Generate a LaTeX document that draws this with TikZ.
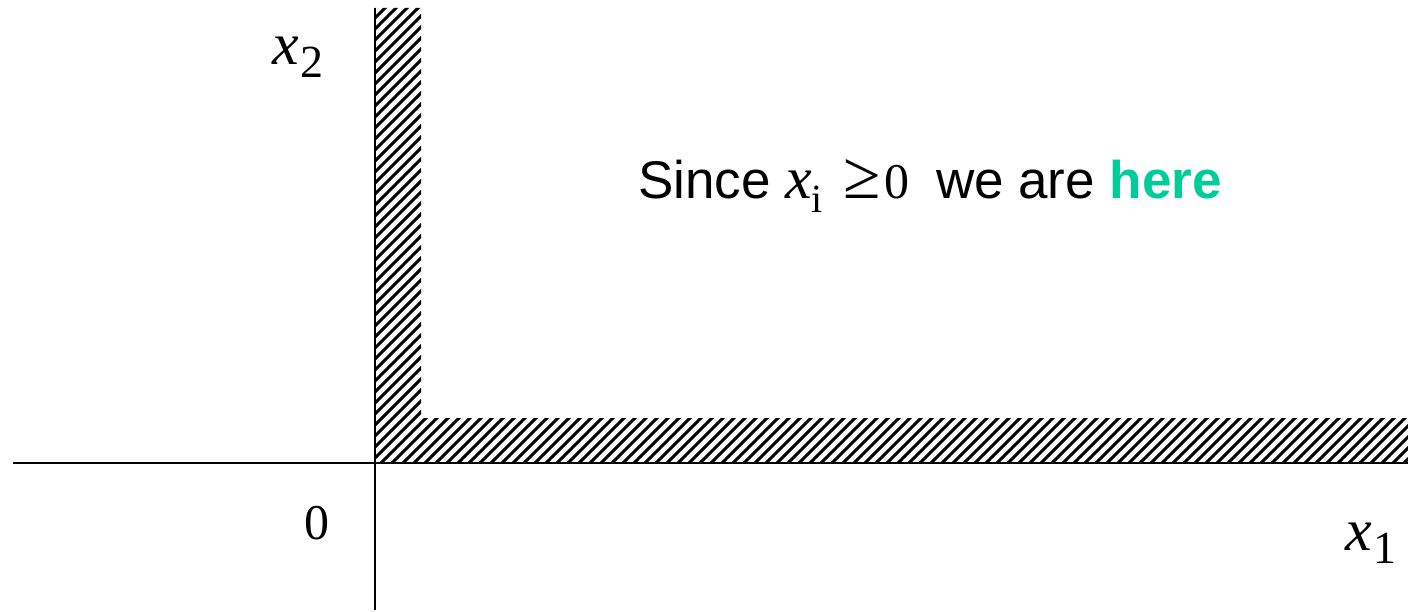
\documentclass[tikz,border=0pt]{standalone}
\usepackage{fontspec}
\setmainfont{Liberation Serif}
\newfontfamily\arialfam{Liberation Sans}
\definecolor{heregreen}{HTML}{00CC99}
\tikzset{
  axis/.style={line width=2pt, black},
  hatchline/.style={line width=3pt, black},
  lbl/.style={inner sep=0pt, outer sep=0pt, anchor=base west},
}
\newcommand{\varx}[2]{{\fontsize{60}{60}\selectfont\itshape x}\kern2pt{\fontsize{46}{46}\selectfont\raisebox{-13pt}{#2}}}
\begin{document}
\begin{tikzpicture}[x=1pt,y=1pt]
\useasboundingbox (0,0) rectangle (1408,611);
% hatched L band
\begin{scope}
\clip (375,148) -- (375,603) -- (421,603) -- (421,193) -- (1408,193) -- (1408,148) -- cycle;
\foreach \a in {-100,-89,...,1420} \draw[hatchline] (\a,140) -- ++(470,470);
\end{scope}
% axes
\draw[axis] (13,148) -- (1408,148);
\draw[axis] (375,1) -- (375,603);
% labels
\node[lbl] (xtwo) at (272,546) {\varx{x}{2}};
\node[lbl] (zero) at (304,72) {\fontsize{50}{50}\selectfont 0};
\node[lbl] (xone) at (1345,61) {\varx{x}{1}};
\node[lbl] (since) at (638,412) {\fontsize{53}{53}\selectfont\arialfam Since \rmfamily{\fontsize{60}{60}\selectfont\itshape x}{\fontsize{40}{40}\selectfont\raisebox{-14pt}{i}}\kern20pt{\fontsize{68}{68}\selectfont ≥}\kern4pt{\fontsize{50}{50}\selectfont 0}\kern12pt\arialfam\ we are {\bfseries\color{heregreen}here}};
\end{tikzpicture}
\end{document}
